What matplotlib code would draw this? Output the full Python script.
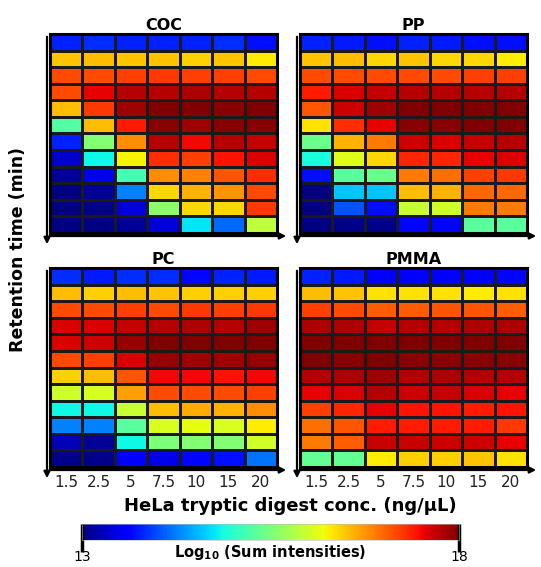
import numpy as np
import matplotlib
matplotlib.use("Agg")
import matplotlib.pyplot as plt
from matplotlib.colors import Normalize
from matplotlib.cm import ScalarMappable
from matplotlib.patches import FancyArrowPatch

# HeLa digest concentrations (ng/uL), 12 retention-time bins top -> bottom
conc_labels = ["1.5", "2.5", "5", "7.5", "10", "15", "20"]
panel_names = ["COC", "PP", "PC", "PMMA"]

coc = [
    [13.8, 13.85, 13.8, 13.8, 13.8, 13.85, 13.7],
    [16.5, 16.55, 16.5, 16.5, 16.45, 16.5, 16.3],
    [17.15, 17.15, 17.2, 17.25, 17.2, 17.2, 17.15],
    [17.15, 17.55, 17.75, 17.75, 17.8, 17.75, 17.75],
    [16.55, 17.25, 17.85, 18.0, 18.0, 17.95, 18.0],
    [15.25, 16.55, 17.4, 17.95, 17.85, 17.95, 17.95],
    [13.8, 15.55, 16.8, 17.75, 17.5, 17.75, 17.7],
    [13.35, 14.85, 16.25, 17.3, 17.2, 17.45, 17.6],
    [13.1, 13.5, 15.15, 16.8, 16.85, 17.1, 17.3],
    [13.0, 13.1, 14.25, 16.4, 16.6, 16.75, 17.15],
    [13.0, 13.05, 13.4, 15.6, 16.4, 16.4, 17.25],
    [13.0, 13.0, 13.1, 13.4, 14.75, 14.15, 15.9],
]
pp = [
    [13.8, 13.75, 13.7, 13.8, 13.75, 13.7, 13.7],
    [16.5, 16.55, 16.4, 16.5, 16.4, 16.4, 16.3],
    [17.15, 17.15, 17.15, 17.15, 17.15, 17.2, 17.2],
    [17.4, 17.6, 17.7, 17.75, 17.75, 17.75, 17.75],
    [17.1, 17.65, 17.85, 18.0, 18.0, 18.0, 18.0],
    [16.35, 17.3, 17.55, 17.95, 17.95, 18.0, 18.0],
    [15.4, 16.6, 16.9, 17.65, 17.6, 17.7, 17.75],
    [14.9, 16.1, 16.4, 17.35, 17.35, 17.55, 17.6],
    [13.7, 15.3, 15.4, 16.9, 16.95, 17.2, 17.25],
    [13.0, 14.6, 14.6, 16.55, 16.6, 17.0, 17.0],
    [13.0, 14.05, 13.7, 15.95, 16.0, 16.9, 16.9],
    [13.0, 13.05, 13.05, 13.65, 13.65, 15.3, 15.3],
]
pc = [
    [13.85, 13.75, 13.85, 13.85, 13.65, 13.8, 13.75],
    [16.55, 16.45, 16.55, 16.5, 16.45, 16.45, 16.45],
    [17.15, 17.15, 17.2, 17.15, 17.25, 17.2, 17.25],
    [17.6, 17.6, 17.7, 17.75, 17.8, 17.75, 17.85],
    [17.6, 17.65, 17.9, 18.0, 18.0, 18.0, 18.0],
    [17.15, 17.2, 17.6, 17.9, 17.85, 17.85, 17.9],
    [16.45, 16.55, 17.1, 17.5, 17.5, 17.45, 17.5],
    [16.0, 16.05, 16.7, 17.15, 17.15, 17.15, 17.2],
    [14.85, 14.85, 15.95, 16.55, 16.65, 16.6, 16.8],
    [14.25, 14.25, 15.3, 16.05, 16.15, 16.05, 16.3],
    [13.25, 13.1, 14.85, 15.5, 15.55, 15.55, 16.0],
    [13.05, 13.05, 13.6, 13.45, 13.65, 13.7, 14.2],
]
pmma = [
    [13.8, 13.75, 13.55, 13.6, 13.6, 13.6, 13.65],
    [16.55, 16.5, 16.35, 16.35, 16.35, 16.3, 16.35],
    [17.2, 17.15, 17.05, 17.05, 17.1, 17.1, 17.05],
    [17.8, 17.8, 17.7, 17.75, 17.75, 17.8, 17.8],
    [18.0, 18.0, 18.0, 18.0, 18.0, 18.0, 18.0],
    [18.0, 17.95, 18.0, 17.95, 17.95, 17.95, 17.95],
    [17.75, 17.8, 17.85, 17.75, 17.8, 17.75, 17.75],
    [17.55, 17.6, 17.75, 17.65, 17.7, 17.6, 17.55],
    [17.2, 17.35, 17.55, 17.45, 17.45, 17.4, 17.45],
    [16.95, 17.1, 17.4, 17.4, 17.4, 17.4, 17.25],
    [16.9, 17.05, 17.68, 17.68, 17.65, 17.65, 17.55],
    [15.35, 15.35, 16.3, 16.45, 16.45, 16.5, 16.35],
]
panels = [coc, pp, pc, pmma]

vmin, vmax = 13, 18
W, H = 541, 567
fig = plt.figure(figsize=(W / 100, H / 100), dpi=100)


def px(x0, y0, w, h):
    # pixel box (top-left origin) -> figure fraction
    return [x0 / W, 1 - (y0 + h) / H, w / W, h / H]


def arrow(p0, p1):
    fig.add_artist(FancyArrowPatch(
        (p0[0] / W, 1 - p0[1] / H), (p1[0] / W, 1 - p1[1] / H),
        transform=fig.transFigure, arrowstyle="-|>", mutation_scale=9,
        lw=1.6, color="black"))


boxes = [(50, 34, 227, 199), (300, 34, 227, 199),
         (50, 268, 227, 199), (300, 268, 227, 199)]
norm = Normalize(vmin, vmax)

for i, (name, data, (x0, y0, w, h)) in enumerate(zip(panel_names, panels, boxes)):
    ax = fig.add_axes(px(x0, y0, w, h))
    arr = np.array(data)
    ax.pcolormesh(arr, cmap="jet", norm=norm, edgecolors="#1a1a1a", linewidth=0.8)
    ax.set_xlim(0, arr.shape[1])
    ax.set_ylim(arr.shape[0], 0)
    ax.set_yticks([])
    if i >= 2:
        ax.set_xticks(np.arange(len(conc_labels)) + 0.5)
        ax.set_xticklabels(conc_labels, fontsize=11, color="#222222")
        ax.tick_params(axis="x", length=0, pad=6)
    else:
        ax.set_xticks([])
    for s in ax.spines.values():
        s.set_linewidth(2.2)
        s.set_color("black")
    ax.set_title(name, fontsize=11.5, fontweight="bold", pad=3)
    # axis arrows (down on the left, right along the bottom)
    arrow((x0 - 3, y0), (x0 - 3, y0 + h + 14))
    arrow((x0 - 3, y0 + h + 3), (x0 + w + 12, y0 + h + 3))

fig.text(18 / W, 1 - 250 / H, "Retention time (min)", rotation=90,
         ha="center", va="center", fontsize=12.5, fontweight="bold")
fig.text(290 / W, 1 - 506 / H, "HeLa tryptic digest conc. (ng/\u03bcL)",
         ha="center", va="center", fontsize=13, fontweight="bold")

cax = fig.add_axes(px(82, 524, 377, 16))
cb = fig.colorbar(ScalarMappable(norm=norm, cmap="jet"), cax=cax,
                  orientation="horizontal", ticks=[13, 18])
cb.outline.set_linewidth(0.4)
cb.outline.set_edgecolor("#bbbbbb")
# thick end marks drawn from the top of the bar down past its bottom
cax.tick_params(axis="x", top=True, bottom=False, labeltop=False,
                labelbottom=True, direction="in", length=20, width=2.5,
                labelsize=10, pad=7)
fig.text(270 / W, 1 - 552 / H, r"Log$_{\mathbf{10}}$ (Sum intensities)",
         ha="center", va="center", fontsize=10.5, fontweight="bold")

fig.savefig("out.png", dpi=100)
